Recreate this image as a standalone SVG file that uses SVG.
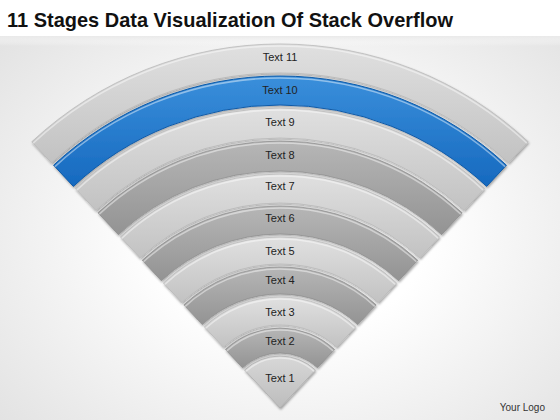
<svg xmlns="http://www.w3.org/2000/svg" width="560" height="420" viewBox="0 0 560 420">
  <defs>
    <radialGradient id="bg" cx="52%" cy="55%" r="70%">
      <stop offset="0.35" stop-color="#ffffff"/>
      <stop offset="1" stop-color="#e2e2e2"/>
    </radialGradient>
    <linearGradient id="titleFade" x1="0" y1="0" x2="0" y2="1">
      <stop offset="0" stop-color="#e9e9e9"/>
      <stop offset="1" stop-color="#ffffff" stop-opacity="0"/>
    </linearGradient>
    <linearGradient id="gLight" x1="0" y1="0" x2="0" y2="1">
      <stop offset="0" stop-color="#e0e0e0"/>
      <stop offset="1" stop-color="#c2c2c2"/>
    </linearGradient>
    <linearGradient id="gDark" x1="0" y1="0" x2="0" y2="1">
      <stop offset="0" stop-color="#b6b6b6"/>
      <stop offset="1" stop-color="#939393"/>
    </linearGradient>
    <linearGradient id="gBlue" x1="0" y1="0" x2="0" y2="1">
      <stop offset="0" stop-color="#3a8fdb"/>
      <stop offset="1" stop-color="#1669bf"/>
    </linearGradient>
    <linearGradient id="gOne" x1="0" y1="0" x2="0" y2="1">
      <stop offset="0" stop-color="#d8d8d8"/>
      <stop offset="1" stop-color="#bcbcbc"/>
    </linearGradient>
    <filter id="sh" x="-10%" y="-10%" width="120%" height="130%">
      <feDropShadow dx="0.8" dy="1.6" stdDeviation="1.3" flood-color="#000" flood-opacity="0.35"/>
    </filter>
  </defs>
  <style>
    .light { fill: url(#gLight); stroke: #b4b4b4; stroke-width: 0.7; filter: url(#sh); }
    .dark { fill: url(#gDark); stroke: #8a8a8a; stroke-width: 0.7; filter: url(#sh); }
    .blue { fill: url(#gBlue); stroke: #0f5aa8; stroke-width: 1; filter: url(#sh); }
    .one { fill: url(#gOne); stroke: #a8a8a8; stroke-width: 0.7; filter: url(#sh); }
    .hl { fill: none; stroke: #ffffff; stroke-opacity: 0.45; stroke-width: 1.6; }
    .lbl { font-family: "Liberation Sans", Arial, sans-serif; font-size: 11px; fill: #222222; text-anchor: middle; }
    .title { font-family: "Liberation Sans", Arial, sans-serif; font-size: 21px; font-weight: bold; fill: #111111; }
    .logo { font-family: "Liberation Sans", Arial, sans-serif; font-size: 10px; fill: #333333; text-anchor: end; }
  </style>

  <rect x="0" y="0" width="560" height="420" fill="url(#bg)"/>
  <rect x="0" y="0" width="560" height="36" fill="#ffffff"/>
  <rect x="0" y="36" width="560" height="10" fill="url(#titleFade)"/>
  <text class="title" x="7" y="27" textLength="446" lengthAdjust="spacingAndGlyphs">11 Stages Data Visualization Of Stack Overflow</text>

  <g id="stage11">
    <path class="light" d="M31.75,141.77 A364,364 0 0 1 528.25,141.77 L508.53,162.98 A335,335 0 0 0 51.53,162.98 Z"/>
    <path class="hl" d="M33.12,143.23 A362,362 0 0 1 526.88,143.23"/>
    <text class="lbl" x="280" y="61">Text 11</text>
  </g>
  <g id="stage10">
    <path class="blue" d="M53.58,165.18 A332,332 0 0 1 506.42,165.18 L486.65,186.39 A303,303 0 0 0 73.35,186.39 Z"/>
    <path class="hl" d="M54.94,166.64 A330,330 0 0 1 505.06,166.64"/>
    <text class="lbl" x="280" y="94">Text 10</text>
  </g>
  <g id="stage9">
    <path class="light" d="M75.40,188.58 A300,300 0 0 1 484.60,188.58 L464.14,210.52 A270,270 0 0 0 95.86,210.52 Z"/>
    <path class="hl" d="M76.76,190.04 A298,298 0 0 1 483.24,190.04"/>
    <text class="lbl" x="280" y="126">Text 9</text>
  </g>
  <g id="stage8">
    <path class="dark" d="M97.91,212.72 A267,267 0 0 1 462.09,212.72 L441.63,234.66 A237,237 0 0 0 118.37,234.66 Z"/>
    <path class="hl" d="M99.27,214.18 A265,265 0 0 1 460.73,214.18"/>
    <text class="lbl" x="280" y="159">Text 8</text>
  </g>
  <g id="stage7">
    <path class="light" d="M120.41,236.85 A234,234 0 0 1 439.59,236.85 L419.81,258.06 A205,205 0 0 0 140.19,258.06 Z"/>
    <path class="hl" d="M121.78,238.32 A232,232 0 0 1 438.22,238.32"/>
    <text class="lbl" x="280" y="190">Text 7</text>
  </g>
  <g id="stage6">
    <path class="dark" d="M142.24,260.26 A202,202 0 0 1 417.76,260.26 L398.67,280.74 A174,174 0 0 0 161.33,280.74 Z"/>
    <path class="hl" d="M143.60,261.72 A200,200 0 0 1 416.40,261.72"/>
    <text class="lbl" x="280" y="222">Text 6</text>
  </g>
  <g id="stage5">
    <path class="light" d="M163.38,282.93 A171,171 0 0 1 396.62,282.93 L378.21,302.68 A144,144 0 0 0 181.79,302.68 Z"/>
    <path class="hl" d="M164.74,284.39 A169,169 0 0 1 395.26,284.39"/>
    <text class="lbl" x="280" y="255">Text 5</text>
  </g>
  <g id="stage4">
    <path class="dark" d="M183.84,304.87 A141,141 0 0 1 376.16,304.87 L357.75,324.62 A114,114 0 0 0 202.25,324.62 Z"/>
    <path class="hl" d="M185.20,306.34 A139,139 0 0 1 374.80,306.34"/>
    <text class="lbl" x="280" y="284">Text 4</text>
  </g>
  <g id="stage3">
    <path class="light" d="M204.30,326.81 A111,111 0 0 1 355.70,326.81 L336.61,347.29 A83,83 0 0 0 223.39,347.29 Z"/>
    <path class="hl" d="M205.66,328.28 A109,109 0 0 1 354.34,328.28"/>
    <text class="lbl" x="280" y="316">Text 3</text>
  </g>
  <g id="stage2">
    <path class="dark" d="M225.44,349.49 A80,80 0 0 1 334.56,349.49 L317.51,367.77 A55,55 0 0 0 242.49,367.77 Z"/>
    <path class="hl" d="M226.80,350.95 A78,78 0 0 1 333.20,350.95"/>
    <text class="lbl" x="280" y="345">Text 2</text>
  </g>
  <g id="stage1">
    <path class="one" d="M280,408 L244.54,369.97 A52,52 0 0 1 315.46,369.97 Z"/>
    <path class="hl" d="M245.90,371.43 A50,50 0 0 1 314.10,371.43"/>
    <text class="lbl" x="280" y="382">Text 1</text>
  </g>

  <g id="connectors"/>

  <text class="logo" x="545" y="411">Your Logo</text>
</svg>
